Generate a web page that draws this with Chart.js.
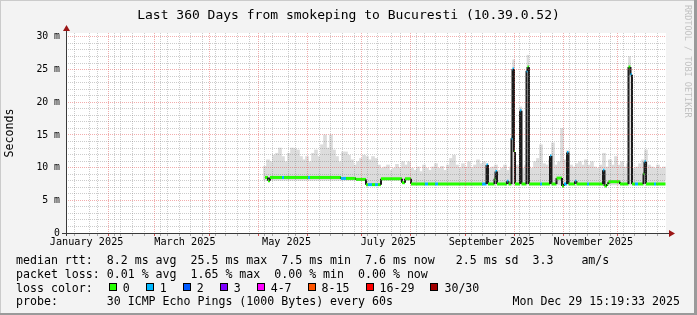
<!DOCTYPE html>
<html><head><meta charset="utf-8">
<script src="https://cdn.jsdelivr.net/npm/chart.js@4/dist/chart.umd.min.js"></script>
<style>html,body{margin:0;padding:0;background:#f3f3f3}canvas{display:block}</style>
</head><body>
<canvas id="c" width="697" height="315"></canvas>
<script>
// ---------- data ----------
const titleText = 'Last 360 Days from smokeping to Bucuresti (10.39.0.52)';
const yAxisTitle = 'Seconds';
const yTickLabels = ['0', '5 m', '10 m', '15 m', '20 m', '25 m', '30 m'];
const monthLabels = ['January 2025', 'March 2025', 'May 2025', 'July 2025', 'September 2025', 'November 2025'];
const monthLabelDates = ['2025-01-16', '2025-03-16', '2025-05-16', '2025-07-16', '2025-09-16', '2025-11-16'];

// smoke (max ping) samples: day offset from graph start, every 1.8 days, values in ms
const smokeStartDay = 119.4;
const smokeStepDays = 1.8;
const smokeMax = [10.2,11.2,10.9,11.9,12.2,13.0,11.7,10.9,12.2,13.0,
  12.9,12.7,11.7,11.2,11.7,10.9,12.2,12.7,11.7,13.5,
  15.0,13.0,15.0,12.7,11.7,10.9,12.4,12.4,11.9,11.2,
  10.4,10.9,11.4,11.9,11.7,11.2,11.7,11.4,10.4,9.9,
  10.1,10.4,9.6,9.9,10.5,10.0,10.9,10.4,10.9,9.9,
  9.6,10.1,9.4,10.4,9.9,9.6,10.1,10.6,9.9,10.2,
  9.6,10.4,11.4,11.9,10.4,9.9,10.6,10.1,10.9,9.9,
  10.4,11.2,10.6,10.9,10.6,9.9,10.1,10.4,9.6,9.9,
  10.4,9.6,10.1,10.4,10.4,10.1,9.9,10.4,10.1,9.9,
  10.9,11.4,13.5,10.6,10.4,11.2,13.8,10.4,10.9,16.0,
  11.2,12.6,10.4,10.1,10.6,10.9,10.4,11.2,10.4,10.9,
  10.1,9.9,10.4,12.2,10.1,11.2,10.4,11.7,10.4,10.9,
  10.1,10.6,10.4,9.9,10.1,10.6,11.2,12.7,10.4,10.1,
  9.9,10.4,9.9,10.1];

// tall smoke above the big spikes
const smokePeakDays = [268.6, 272.8, 277.2, 338.1];
const smokePeakVals = [26.5, 19.3, 27.2, 27.0];

// dense smoke band (step values)
const bandDays = [119.4, 165.0, 180.0, 189.0, 207.0, 359.7];
const bandHigh = [9.8, 9.6, 9.3, 9.4, 9.0, 9.0];
const bandLow  = [8.3, 8.1, 7.3, 8.1, 7.3, 7.3];

// median rtt (ms) vertices; medLoss = lost pings for the segment starting at that vertex
const medDays = [119.4,121.2,121.2,122.4,122.4,129.6,130.8,145.2,146.4,165.0,
  165.0,168.0,174.0,174.0,180.0,180.0,181.2,183.6,185.4,187.2,
  189.0,189.0,201.6,201.6,203.4,203.4,207.0,207.0,215.4,217.2,
  221.4,223.2,249.6,252.3,252.3,253.2,253.2,257.1,257.1,257.7,
  257.7,258.6,258.6,264.6,264.6,265.5,265.5,267.3,267.3,267.9,
  267.9,268.8,268.8,269.4,269.4,272.4,272.4,273.3,273.3,276.3,
  276.3,276.9,276.9,277.8,277.8,284.4,285.6,290.4,290.4,291.3,
  291.3,294.3,294.3,297.6,297.6,298.8,298.8,300.6,300.6,301.5,
  301.5,305.4,305.4,306.3,306.3,312.6,313.8,322.2,322.2,323.1,
  323.1,324.6,324.6,325.5,325.5,332.4,332.4,337.5,337.5,338.7,
  338.7,339.6,339.6,341.4,343.2,346.5,346.5,347.1,347.1,348.0,
  348.0,352.8,354.0,359.7];
const medVals = [8.5,8.5,8.0,8.0,8.5,8.5,8.5,8.5,8.5,8.5,
  8.35,8.35,8.35,8.2,8.2,7.4,7.4,7.4,7.4,7.4,
  7.4,8.3,8.3,7.7,7.7,8.3,8.3,7.5,7.5,7.5,
  7.5,7.5,7.5,7.5,10.4,10.4,7.5,7.5,8.3,8.3,
  9.4,9.4,7.5,7.5,7.9,7.9,7.5,7.5,14.5,14.5,
  25.1,25.1,12.4,12.4,7.5,7.5,18.7,18.7,7.5,7.5,
  24.8,24.8,25.4,25.4,7.5,7.5,7.5,7.5,11.8,11.8,
  7.5,7.5,8.4,8.4,7.2,7.2,7.5,7.5,12.3,12.3,
  7.5,7.5,7.9,7.9,7.5,7.5,7.5,7.5,9.6,9.6,
  7.2,7.2,7.5,7.5,7.85,7.85,7.5,7.5,25.4,25.4,
  24.2,24.2,7.5,7.5,7.5,7.5,9.1,9.1,10.9,10.9,
  7.5,7.5,7.5,7.5];
const medLoss = [0,0,0,0,0,1,0,1,0,0,
  1,0,0,0,0,0,1,0,1,0,
  0,0,0,0,0,0,0,0,1,0,
  1,0,1,0,1,0,0,0,0,0,
  1,0,0,0,1,0,0,0,1,0,
  1,0,0,0,0,0,1,0,0,0,
  1,0,0,0,0,1,0,0,1,0,
  0,0,0,0,0,0,1,0,1,0,
  0,0,1,0,0,1,0,0,1,0,
  0,0,0,0,0,0,0,0,0,0,
  1,0,0,1,0,0,0,0,1,0,
  0,1,0,0];

const statLines = [
  'median rtt:  8.2 ms avg  25.5 ms max  7.5 ms min  7.6 ms now   2.5 ms sd  3.3    am/s',
  'packet loss: 0.01 % avg  1.65 % max  0.00 % min  0.00 % now'
];
const lossTitle = 'loss color:';
const lossLabels = ['0', '1', '2', '3', '4-7', '8-15', '16-29', '30/30'];
const probeTitle = 'probe:';
const probeText = '30 ICMP Echo Pings (1000 Bytes) every 60s';
const stampText = 'Mon Dec 29 15:19:33 2025';
const watermark = 'RRDTOOL / TOBI OETIKER';

// ---------- styles ----------
const lossColors = ['#26ff00', '#00b8ff', '#0059ff', '#7e00ff', '#ff00ff', '#ff5500', '#ff0000', '#a10000'];
const MONO = '"DejaVu Sans Mono", "Liberation Mono", monospace';
const BACK = '#f3f3f3';
const MINOR = 'rgba(120,120,120,0.38)';
const MAJOR = 'rgba(225,60,60,0.42)';
const SPIKE = '#1c1c1c';
const SMOKE = '#dcdcdc';

// ---------- time axis structure ----------
const DAY = 86400000;
const END = Date.UTC(2025, 11, 29, 15, 19, 33);
const SPAN_DAYS = 360;
const START = END - SPAN_DAYS * DAY;
const toDay = t => (t - START) / DAY;

const xTickInfo = [];
for (let t = Date.UTC(2025, 0, 1); t <= END; t += DAY) {
  if (t < START) continue;
  const d = new Date(t);
  if (d.getUTCDate() === 1) xTickInfo.push({value: toDay(t), kind: 'month', label: ''});
  else if (d.getUTCDay() === 0) xTickInfo.push({value: toDay(t), kind: 'week', label: ''});
}
monthLabelDates.forEach((s, i) => {
  xTickInfo.push({value: toDay(Date.parse(s + 'T00:00:00Z')), kind: 'label', label: monthLabels[i]});
});
xTickInfo.sort((a, b) => a.value - b.value);

const yTickValues = [];
for (let v = 0; v <= 30; v++) yTickValues.push(v);

// ---------- datasets ----------
const smokeData = smokeMax.map((v, i) => ({x: smokeStartDay + i * smokeStepDays, y: v}));
const peakData = smokePeakDays.map((d, i) => ({x: d, y: smokePeakVals[i]}));
const bandHighData = bandDays.map((d, i) => ({x: d, y: bandHigh[i]}));
const bandLowData = bandDays.map((d, i) => ({x: d, y: bandLow[i]}));
const medData = medDays.map((d, i) => ({x: d, y: medVals[i]}));

const isVertical = c => c.p0.parsed.x === c.p1.parsed.x;

const frameAndText = {
  id: 'frameAndText',
  beforeDraw(chart) {
    const {ctx, chartArea: a, width: W, height: H} = chart;
    ctx.save();
    ctx.fillStyle = BACK;
    ctx.fillRect(0, 0, W, H);
    ctx.fillStyle = '#cbcbcb';
    ctx.fillRect(0, 0, W, 1);
    ctx.fillRect(0, 0, 1, H);
    ctx.fillStyle = '#9a9a9a';
    ctx.fillRect(0, H - 2, W, 2);
    ctx.fillRect(W - 3, 0, 3, H);
    ctx.fillStyle = '#ffffff';
    ctx.fillRect(a.left, a.top, a.right - a.left, a.bottom - a.top);
    ctx.restore();
  },
  afterDraw(chart) {
    const {ctx, chartArea: a, width: W} = chart;
    ctx.save();
    // axes
    ctx.strokeStyle = '#3a3a3a';
    ctx.lineWidth = 1;
    ctx.beginPath();
    ctx.moveTo(a.left - 4, a.bottom + 0.5);
    ctx.lineTo(a.right + 4, a.bottom + 0.5);
    ctx.moveTo(a.left + 0.5, a.bottom + 3);
    ctx.lineTo(a.left + 0.5, a.top - 3);
    ctx.stroke();
    // arrows
    ctx.fillStyle = '#9b1515';
    ctx.beginPath();
    ctx.moveTo(a.right + 3, a.bottom + 0.5 - 3.5);
    ctx.lineTo(a.right + 9, a.bottom + 0.5);
    ctx.lineTo(a.right + 3, a.bottom + 0.5 + 3.5);
    ctx.closePath();
    ctx.fill();
    ctx.beginPath();
    ctx.moveTo(a.left + 0.5 - 3.5, a.top - 2);
    ctx.lineTo(a.left + 0.5, a.top - 8);
    ctx.lineTo(a.left + 0.5 + 3.5, a.top - 2);
    ctx.closePath();
    ctx.fill();

    ctx.fillStyle = '#000';
    // title
    ctx.font = '13px ' + MONO;
    ctx.textAlign = 'center';
    ctx.textBaseline = 'alphabetic';
    ctx.fillText(titleText, W / 2, 18.5);
    // y title
    ctx.save();
    ctx.translate(10, (a.top + a.bottom) / 2);
    ctx.rotate(-Math.PI / 2);
    ctx.font = '11.6px ' + MONO;
    ctx.textBaseline = 'middle';
    ctx.fillText(yAxisTitle, 0, 0);
    ctx.restore();
    // watermark
    ctx.save();
    ctx.translate(687, 5);
    ctx.rotate(Math.PI / 2);
    ctx.font = '8.5px ' + MONO;
    ctx.fillStyle = '#c2c2c2';
    ctx.textAlign = 'left';
    ctx.textBaseline = 'middle';
    ctx.fillText(watermark, 0, 0);
    ctx.restore();

    // legend
    ctx.font = '11.6px ' + MONO;
    ctx.textAlign = 'left';
    ctx.textBaseline = 'alphabetic';
    const lx = 16, col = ctx.measureText('0').width;
    const base = [264, 277.8, 291.6, 305.4];
    ctx.fillText(statLines[0], lx, base[0]);
    ctx.fillText(statLines[1], lx, base[1]);
    ctx.fillText(lossTitle, lx, base[2]);
    let x = lx + 13 * col;
    lossLabels.forEach((lab, i) => {
      const bx = Math.round(x + 2), by = Math.round(base[2] - 8.5);
      ctx.fillStyle = lossColors[i];
      ctx.fillRect(bx, by, 8, 8);
      ctx.strokeStyle = '#000';
      ctx.lineWidth = 1;
      ctx.strokeRect(bx + 0.5, by + 0.5, 7, 7);
      ctx.fillStyle = '#000';
      ctx.fillText(lab, x + 16, base[2]);
      x = x + 16 + ctx.measureText(lab).width + 14;
    });
    ctx.fillText(probeTitle, lx, base[3]);
    ctx.fillText(probeText, lx + 13 * col, base[3]);
    ctx.textAlign = 'right';
    ctx.fillText(stampText, 680, base[3]);
    ctx.restore();
  }
};

new Chart(document.getElementById('c'), {
  type: 'line',
  data: {
    datasets: [
      {
        type: 'line', data: medData, order: 0,
        borderWidth: 3, pointRadius: 0, tension: 0, fill: false,
        borderColor: lossColors[0], borderJoinStyle: 'miter', borderCapStyle: 'butt',
        segment: {
          borderColor: c => isVertical(c) ? SPIKE : lossColors[medLoss[c.p0DataIndex]],
          borderWidth: c => isVertical(c) ? 2 : 3
        }
      },
      {type: 'bar', data: peakData, order: 1, base: 8, barThickness: 2, backgroundColor: SMOKE, borderWidth: 0, grouped: false},
      {type: 'bar', data: smokeData, order: 2, base: 8, barThickness: 3, backgroundColor: SMOKE, borderWidth: 0, grouped: false},
      {type: 'line', data: bandHighData, order: 3, stepped: true, borderWidth: 0, pointRadius: 0,
        backgroundColor: SMOKE, fill: '+1'},
      {type: 'line', data: bandLowData, order: 4, stepped: true, borderWidth: 0, pointRadius: 0, fill: false}
    ]
  },
  options: {
    responsive: false,
    animation: false,
    devicePixelRatio: 1,
    layout: {padding: {top: 33, right: 31, left: 0, bottom: 0}},
    plugins: {legend: {display: false}, tooltip: {enabled: false}, title: {display: false}},
    scales: {
      x: {
        type: 'linear', min: 0, max: SPAN_DAYS, offset: false, position: 'bottom',
        afterBuildTicks: s => { s.ticks = xTickInfo.map(o => ({value: o.value})); },
        afterFit: s => { s.height = 82; },
        ticks: {
          autoSkip: false, maxRotation: 0, minRotation: 0, padding: 0, color: '#000',
          font: {family: MONO, size: 10.2},
          callback: (v, i) => xTickInfo[i] ? xTickInfo[i].label : ''
        },
        grid: {
          z: 1, lineWidth: 1, tickLength: 3, borderDash: [1, 1],
          color: c => { const k = xTickInfo[c.index] && xTickInfo[c.index].kind; return k === 'month' ? MAJOR : (k === 'week' ? MINOR : 'rgba(0,0,0,0)'); },
          tickColor: c => { const k = xTickInfo[c.index] && xTickInfo[c.index].kind; return k === 'month' ? 'rgba(200,40,40,0.8)' : (k === 'week' ? 'rgba(120,120,120,0.6)' : 'rgba(0,0,0,0)'); }
        },
        border: {display: false, dash: [1, 1]}
      },
      y: {
        type: 'linear', min: 0, max: 30.6, position: 'left',
        afterBuildTicks: s => { s.ticks = yTickValues.map(v => ({value: v})); },
        afterFit: s => { s.width = 66; },
        ticks: {
          autoSkip: false, padding: 6, color: '#000',
          font: {family: MONO, size: 9.8},
          callback: v => (v % 5 === 0 ? yTickLabels[v / 5] : '')
        },
        grid: {
          z: 1, lineWidth: 1, drawTicks: false, borderDash: [1, 1],
          color: c => (c.tick && c.tick.value % 5 === 0 ? MAJOR : MINOR)
        },
        border: {display: false, dash: [1, 1]}
      }
    }
  },
  plugins: [frameAndText]
});
</script>
</body></html>
